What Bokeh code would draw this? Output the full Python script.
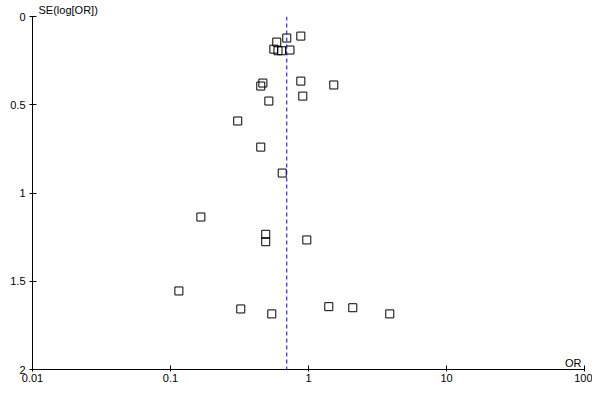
from bokeh.plotting import figure
from bokeh.models import Range1d, FixedTicker, Span, Label
from bokeh.embed import file_html
from bokeh.resources import INLINE

# Study odds ratios and standard errors of log(OR)
odds_ratio = [0.880, 0.696, 0.589, 0.561, 0.601, 0.637, 0.734,
              0.880, 1.525, 0.467, 0.451, 0.909, 0.516, 0.307,
              0.451, 0.645, 0.166, 0.490, 0.490, 0.972, 0.115,
              0.323, 0.542, 1.403, 2.094, 3.882]
se_log_or = [0.111, 0.122, 0.145, 0.185, 0.194, 0.194, 0.190,
             0.366, 0.388, 0.377, 0.394, 0.451, 0.479, 0.592,
             0.740, 0.887, 1.136, 1.234, 1.276, 1.266, 1.555,
             1.657, 1.685, 1.644, 1.650, 1.685]
pooled_or = 0.696

x_ticks = [0.01, 0.1, 1, 10, 100]
x_tick_labels = ["0.01", "0.1", "1", "10", "100"]
y_ticks = [0, 0.5, 1, 1.5, 2]
y_tick_labels = ["0", "0.5", "1", "1.5", "2"]

FONT = "Liberation Sans"

p = figure(x_axis_type="log",
           x_range=Range1d(0.01, 100), y_range=Range1d(2, 0),
           frame_width=552, frame_height=353,
           min_border_left=32, min_border_right=8,
           min_border_top=16, min_border_bottom=23,
           output_backend="svg", toolbar_location=None)
p.outline_line_color = None
p.xgrid.visible = False
p.ygrid.visible = False
p.background_fill_color = "white"
p.border_fill_color = "white"

p.title.text = "SE(log[OR])"
p.title.align = "left"
p.title.offset = 6
p.title.standoff = 2
p.title.text_font = FONT
p.title.text_font_size = "11px"
p.title.text_font_style = "normal"
p.title.text_color = "black"

for ax in (p.xaxis[0], p.yaxis[0]):
    ax.axis_line_color = "black"
    ax.major_tick_line_color = "black"
    ax.minor_tick_line_color = None
    ax.major_label_text_font = FONT
    ax.major_label_text_font_size = "11px"
    ax.major_label_text_color = "black"

p.xaxis[0].ticker = FixedTicker(ticks=x_ticks)
p.xaxis[0].major_label_overrides = {t: l for t, l in zip(x_ticks, x_tick_labels)}
p.xaxis[0].major_tick_in = 4
p.xaxis[0].major_tick_out = 2
p.xaxis[0].major_label_standoff = 2

p.yaxis[0].ticker = FixedTicker(ticks=y_ticks)
p.yaxis[0].major_label_overrides = {t: l for t, l in zip(y_ticks, y_tick_labels)}
p.yaxis[0].major_tick_in = 4
p.yaxis[0].major_tick_out = 3
p.yaxis[0].major_label_standoff = 4

p.add_layout(Span(location=pooled_or, dimension="height",
                  line_color="#0000ff", line_dash="4 3", line_width=1))

p.scatter(x=odds_ratio, y=se_log_or, marker="square", size=8,
          fill_alpha=0, line_color="black", line_width=1)

p.add_layout(Label(x=100, y=1.963, x_offset=-3, text="OR",
                   text_font=FONT, text_font_size="11px",
                   text_baseline="alphabetic", text_align="right",
                   text_color="black"))

open("out.html", "w").write(file_html(p, INLINE))
